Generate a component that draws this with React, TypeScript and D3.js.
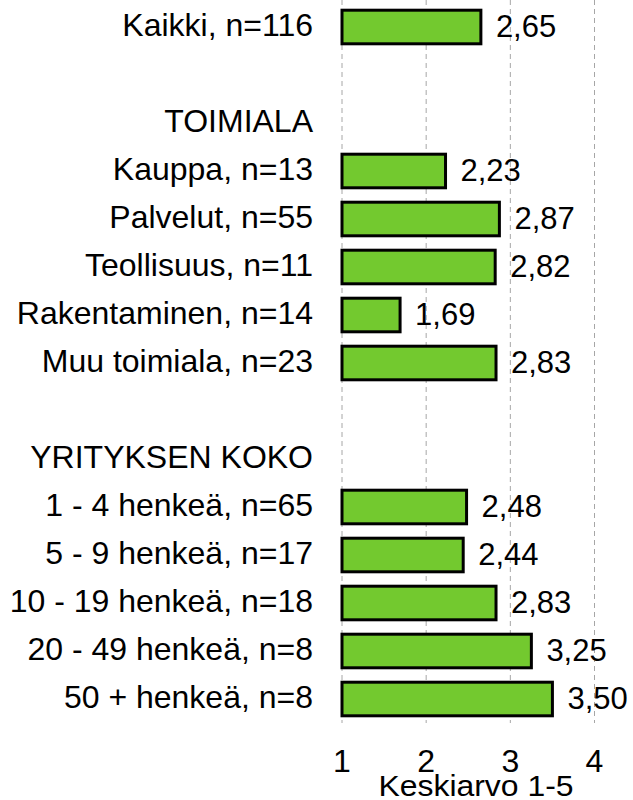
import React from "react";
import * as d3 from "d3";

const rowLabels: string[] = [
  "Kaikki, n=116",
  "",
  "TOIMIALA",
  "Kauppa, n=13",
  "Palvelut, n=55",
  "Teollisuus, n=11",
  "Rakentaminen, n=14",
  "Muu toimiala, n=23",
  "",
  "YRITYKSEN KOKO",
  "1 - 4 henkeä, n=65",
  "5 - 9 henkeä, n=17",
  "10 - 19 henkeä, n=18",
  "20 - 49 henkeä, n=8",
  "50 + henkeä, n=8",
];
const rowValues: (number | null)[] = [
  2.65, null, null, 2.23, 2.87, 2.82, 1.69, 2.83, null, null, 2.48, 2.44, 2.83, 3.25, 3.5,
];
const xTicks: number[] = [1, 2, 3, 4];
const axisTitle = "Keskiarvo 1-5";

export default function App() {
  const W = 633;
  const H = 800;
  const x = d3.scaleLinear().domain([1, 4]).range([342, 594.5]);
  const y = d3
    .scaleBand<number>()
    .domain(d3.range(rowLabels.length))
    .range([3, 723])
    .paddingInner(0.3)
    .paddingOuter(0.15);
  const fmt = (v: number) => v.toFixed(2).replace(".", ",");
  const font = "'Liberation Sans', Arial, sans-serif";
  return (
    <svg
      width={W}
      height={H}
      style={{ position: "absolute", left: 0, top: 0, background: "#fff" }}
      fontFamily={font}
    >
      {xTicks.map((t) => (
        <line
          key={"g" + t}
          x1={x(t)}
          x2={x(t)}
          y1={0}
          y2={723}
          stroke="#a6a6a6"
          strokeWidth={1}
          strokeDasharray="5,4"
        />
      ))}
      {rowLabels.map((lab, i) => {
        const yc = (y(i) as number) + y.bandwidth() / 2;
        return (
          <text
            key={"l" + i}
            x={313}
            y={yc + 9}
            textAnchor="end"
            fontSize={32}
            fill="#000"
          >
            {lab}
          </text>
        );
      })}
      {rowValues.map((v, i) => {
        if (v === null) return null;
        const y0 = y(i) as number;
        return (
          <g key={"b" + i}>
            <rect
              x={x(1)}
              y={y0}
              width={x(v) - x(1)}
              height={y.bandwidth()}
              fill="#73c92f"
              stroke="#000"
              strokeWidth={3}
            />
            <text
              x={x(v) + 15}
              y={y0 + y.bandwidth() / 2 + 10}
              fontSize={31}
              fill="#000"
            >
              {fmt(v)}
            </text>
          </g>
        );
      })}
      {xTicks.map((t) => (
        <text key={"t" + t} x={x(t)} y={772} textAnchor="middle" fontSize={32} fill="#000">
          {t}
        </text>
      ))}
      <text
        x={476}
        y={796}
        textAnchor="middle"
        fontSize={30}
        textLength={195}
        lengthAdjust="spacingAndGlyphs"
        fill="#000"
      >
        {axisTitle}
      </text>
    </svg>
  );
}
